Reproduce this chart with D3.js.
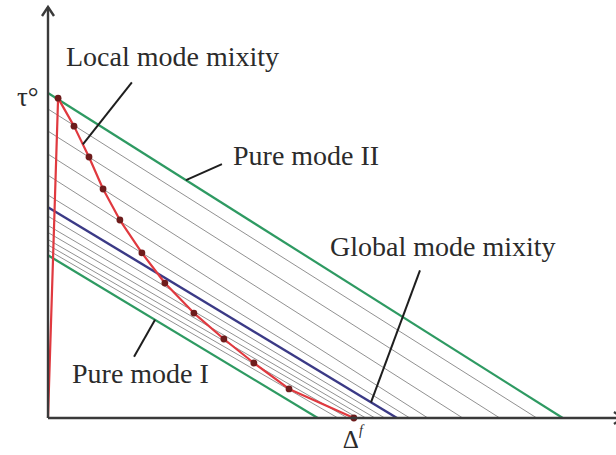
<!DOCTYPE html>
<html>
<head>
<meta charset="utf-8">
<script src="https://cdn.jsdelivr.net/npm/d3@7/dist/d3.min.js"></script>
<style>
  html, body { margin: 0; padding: 0; background: #fff; }
  svg { display: block; }
  text { font-family: "Liberation Serif", "Times New Roman", Times, serif; fill: #2b2b2b; }
</style>
</head>
<body>
<svg id="chart" width="616" height="455"></svg>
<script>
// Bilinear traction–separation law: local path (red) and softening family
const localDelta = [0, 0.033, 0.085, 0.134, 0.180, 0.235, 0.307, 0.382, 0.477, 0.575, 0.673, 0.788, 1.0];
const localTau   = [0, 1.0, 0.9125, 0.816, 0.716, 0.619, 0.516, 0.422, 0.328, 0.247, 0.172, 0.091, 0];

// Softening lines: stress intercept at zero opening, and final opening
const grayIntercepts = [0.966, 0.897, 0.825, 0.759, 0.697, 0.631, 0.602, 0.580, 0.558, 0.541, 0.525];
const grayEnds       = [1.598, 1.477, 1.356, 1.242, 1.183, 1.101, 1.069, 1.039, 1.013, 0.980, 0.948];

const pureModeII = [1.016, 1.683];   // [intercept, end]
const pureModeI  = [0.509, 0.882];
const globalMix  = [0.659, 1.141];

const labels = {
  local: "Local mode mixity",
  modeII: "Pure mode II",
  global: "Global mode mixity",
  modeI: "Pure mode I",
  tau: "τ°",
  delta: "Δ",
  deltaSup: "f"
};

const svg = d3.select("#chart");
const x = d3.scaleLinear().domain([0, 1.88]).range([48, 623]);
const y = d3.scaleLinear().domain([0, 1.285]).range([418, 7]);

const line = d3.line().x(d => x(d[0])).y(d => y(d[1]));
const seg = (b, e) => [[0, b], [e, 0]];
const onLine = (b, e, d) => [d, b * (1 - d / e)];

const plot = svg.append("g");

// family of softening lines
plot.selectAll("path.gray")
  .data(grayIntercepts.map((b, i) => seg(b, grayEnds[i])))
  .join("path")
  .attr("class", "gray")
  .attr("d", line)
  .attr("fill", "none")
  .attr("stroke", "#858585")
  .attr("stroke-width", 0.9);

// pure mode envelopes
[pureModeII, pureModeI].forEach(p => {
  plot.append("path")
    .attr("d", line(seg(p[0], p[1])))
    .attr("fill", "none")
    .attr("stroke", "#2e9a62")
    .attr("stroke-width", 2.2);
});

// global mode mixity
plot.append("path")
  .attr("d", line(seg(globalMix[0], globalMix[1])))
  .attr("fill", "none")
  .attr("stroke", "#3b3a86")
  .attr("stroke-width", 2.4);

// axes with arrow heads
const axisColor = "#3a3a3a";
const ax = svg.append("g").attr("stroke", axisColor).attr("fill", "none").attr("stroke-width", 2.4);
ax.append("line").attr("x1", x(0)).attr("y1", y(0)).attr("x2", x(0)).attr("y2", y(1.285));
ax.append("polyline")
  .attr("points", [[x(0) - 6, y(1.285) + 9], [x(0), y(1.285)], [x(0) + 6, y(1.285) + 9]].join(" "));
ax.append("line").attr("x1", x(0)).attr("y1", y(0)).attr("x2", x(1.88)).attr("y2", y(0));
ax.append("polyline")
  .attr("points", [[x(1.88) - 9, y(0) - 6], [x(1.88), y(0)], [x(1.88) - 9, y(0) + 6]].join(" "));

// local mode mixity path
const pts = localDelta.map((d, i) => [d, localTau[i]]);
plot.append("path")
  .attr("d", line(pts))
  .attr("fill", "none")
  .attr("stroke", "#e0393f")
  .attr("stroke-width", 2.2)
  .attr("stroke-linejoin", "round");
plot.selectAll("circle.pt")
  .data(pts.slice(1))
  .join("circle")
  .attr("class", "pt")
  .attr("cx", d => x(d[0]))
  .attr("cy", d => y(d[1]))
  .attr("r", 3.4)
  .attr("fill", "#6e1c1c");

// point on the local path at a given opening
function onLocal(d) {
  for (let i = 1; i < pts.length - 1; i++) {
    const a = pts[i], b = pts[i + 1];
    if (d >= a[0] && d <= b[0]) {
      const t = (d - a[0]) / (b[0] - a[0]);
      return [d, a[1] + t * (b[1] - a[1])];
    }
  }
  return pts[1];
}

// annotations: leader line from a point on the curve to the label
const notes = [
  { at: onLocal(0.114),                           dx: 49,  dy: -62,  text: labels.local,  tx: 66,  ty: 66 },
  { at: onLine(pureModeII[0], pureModeII[1], 0.451), dx: 36, dy: -16, text: labels.modeII, tx: 233, ty: 165 },
  { at: onLine(globalMix[0], globalMix[1], 1.056),  dx: 49,  dy: -132, text: labels.global, tx: 330, ty: 256 },
  { at: onLine(pureModeI[0], pureModeI[1], 0.350),  dx: -21, dy: 37,  text: labels.modeI,  tx: 72,  ty: 383 }
];
const ann = svg.append("g");
notes.forEach(n => {
  const px = x(n.at[0]), py = y(n.at[1]);
  ann.append("line")
    .attr("x1", px).attr("y1", py)
    .attr("x2", px + n.dx).attr("y2", py + n.dy)
    .attr("stroke", "#1e1e1e").attr("stroke-width", 2);
  ann.append("text")
    .attr("x", n.tx).attr("y", n.ty)
    .attr("font-size", 28)
    .text(n.text);
});

// axis symbols
ann.append("text")
  .attr("x", 17).attr("y", y(1) + 8)
  .attr("font-size", 27)
  .text(labels.tau);
const dl = ann.append("text")
  .attr("x", x(1) - 11).attr("y", 448)
  .attr("font-size", 25);
dl.append("tspan").text(labels.delta);
dl.append("tspan").attr("font-size", 14).attr("font-style", "italic").attr("dy", -13).text(labels.deltaSup);
</script>
</body>
</html>
